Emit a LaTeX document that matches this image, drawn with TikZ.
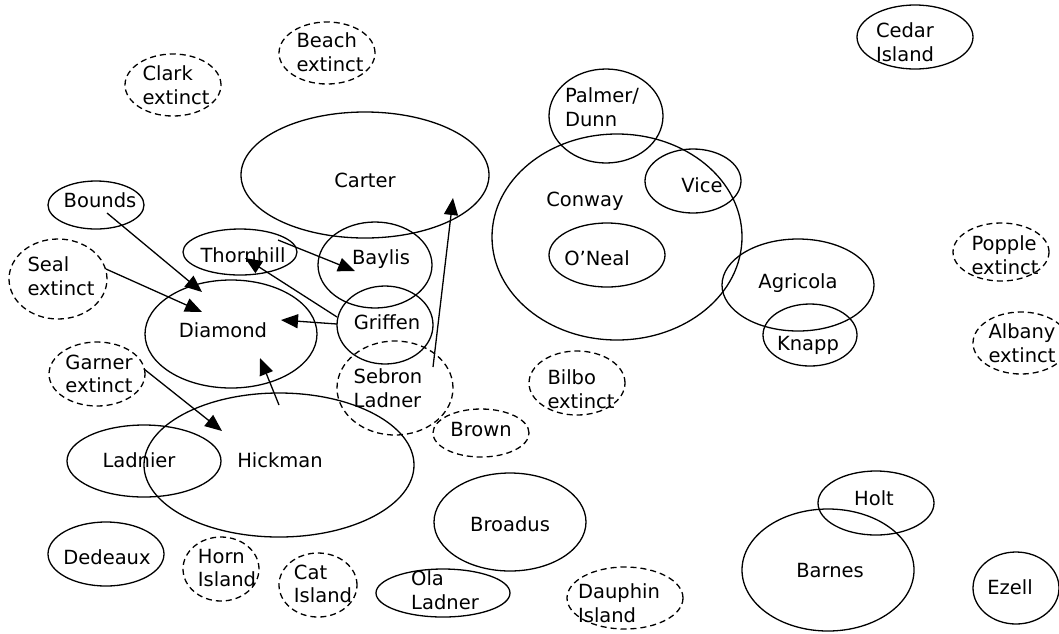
\documentclass[tikz,border=0pt]{standalone}
\usepackage{fontspec}
\setmainfont{DejaVu Sans}
\usepackage{tikz}
\usepackage{tkz-euclide}
\usetikzlibrary{shapes.geometric,arrows.meta}

\begin{document}
\begin{tikzpicture}[x=1pt, y=-1pt,
  regiao/.style={draw, ellipse, line width=1.3pt, inner sep=0pt},
  extinta/.style={regiao, dash pattern=on 6pt off 4pt},
  rotulo/.style={inner sep=0pt, align=left, font=\fontsize{19.5}{23.5}\selectfont},
  seta/.style={line width=1.3pt, -{Triangle[length=17pt,width=14pt]}}] %estilos das regioes, rotulos e setas

\useasboundingbox (0,0) rectangle (1059,633);

%Pontos de inicio e fim das setas (x/y/NomedoPonto), em pixels da figura
\tkzDefPoints{
107/213/BoundsS,
202/292/DiamondE1,
106/269/SealS,
202/312/DiamondE2,
278/240/ThornhillS,
355/271/BaylisE,
337/317/GriffenS1,
245/258/ThornhillE,
337/324/GriffenS2,
281/320/DiamondE3,
279/405/HickmanS,
260/358/DiamondE4,
433/367/SebronS,
453/198/CarterE,
144/369/GarnerS,
222/431/HickmanE}

%Regioes com linha cheia
%---------------------------------------------------
\node[regiao, minimum width=248pt, minimum height=126pt] (Carter) at (365,175) {};
\node[regiao, minimum width=250pt, minimum height=206pt] (Conway) at (617,237) {};
\node[regiao, minimum width=114pt, minimum height=94pt] (PalmerDunn) at (606,116) {};
\node[regiao, minimum width=96pt, minimum height=64pt] (Vice) at (693,181) {};
\node[regiao, minimum width=116pt, minimum height=64pt] (ONeal) at (607,255) {};
\node[regiao, minimum width=152pt, minimum height=92pt] (Agricola) at (798,285) {};
\node[regiao, minimum width=94pt, minimum height=62pt] (Knapp) at (810,335) {};
\node[regiao, minimum width=116pt, minimum height=64pt] (Cedar) at (915,37) {};
\node[regiao, minimum width=96pt, minimum height=48pt] (Bounds) at (96,205) {};
\node[regiao, minimum width=114pt, minimum height=46pt] (Thornhill) at (240,252) {};
\node[regiao, minimum width=114pt, minimum height=86pt] (Baylis) at (375,265) {};
\node[regiao, minimum width=96pt, minimum height=78pt] (Griffen) at (385,325) {};
\node[regiao, minimum width=172pt, minimum height=108pt] (Diamond) at (231,334) {};
\node[regiao, minimum width=154pt, minimum height=72pt] (Ladnier) at (144,461) {};
\node[regiao, minimum width=270pt, minimum height=144pt] (Hickman) at (279,465) {};
\node[regiao, minimum width=116pt, minimum height=64pt] (Dedeaux) at (106,554) {};
\node[regiao, minimum width=134pt, minimum height=48pt] (OlaLadner) at (443,593) {};
\node[regiao, minimum width=152pt, minimum height=98pt] (Broadus) at (510,522) {};
\node[regiao, minimum width=116pt, minimum height=64pt] (Holt) at (876,503) {};
\node[regiao, minimum width=172pt, minimum height=122pt] (Barnes) at (828,570) {};
\node[regiao, minimum width=86pt, minimum height=72pt] (Ezell) at (1016,588) {};
%---------------------------------------------------

%Regioes extintas (linha tracejada)
%---------------------------------------------------
\node[extinta, minimum width=96pt, minimum height=62pt] (Beach) at (327,53) {};
\node[extinta, minimum width=96pt, minimum height=62pt] (Clark) at (173,85) {};
\node[extinta, minimum width=98pt, minimum height=80pt] (Seal) at (58,279) {};
\node[extinta, minimum width=96pt, minimum height=64pt] (Garner) at (97,374) {};
\node[extinta, minimum width=116pt, minimum height=94pt] (Sebron) at (395,388) {};
\node[extinta, minimum width=76pt, minimum height=64pt] (Horn) at (221,569) {};
\node[extinta, minimum width=78pt, minimum height=64pt] (Cat) at (318,585) {};
\node[extinta, minimum width=96pt, minimum height=48pt] (Brown) at (481,433) {};
\node[extinta, minimum width=96pt, minimum height=64pt] (Bilbo) at (577,383) {};
\node[extinta, minimum width=116pt, minimum height=62pt] (Dauphin) at (625,598) {};
\node[extinta, minimum width=96pt, minimum height=58pt] (Popple) at (1001,252) {};
\node[extinta, minimum width=96pt, minimum height=62pt] (Albany) at (1021,343) {};
%---------------------------------------------------

%Rotulos das regioes
%---------------------------------------------------
\node[rotulo] (tCarter) at (365,180) {Carter};
\node[rotulo] (tConway) at (585,201) {Conway};
\node[rotulo] (tPalmerDunn) at (602,107) {Palmer/\\Dunn};
\node[rotulo] (tVice) at (702,185) {Vice};
\node[rotulo] (tONeal) at (597,258) {O’Neal};
\node[rotulo] (tAgricola) at (798,283) {Agricola};
\node[rotulo] (tKnapp) at (808,345) {Knapp};
\node[rotulo] (tCedar) at (905,42) {Cedar\\Island};
\node[rotulo] (tBounds) at (100,200) {Bounds};
\node[rotulo] (tThornhill) at (243,255) {Thornhill};
\node[rotulo] (tBaylis) at (381,259) {Baylis};
\node[rotulo] (tGriffen) at (387,322) {Griffen};
\node[rotulo] (tDiamond) at (223,330) {Diamond};
\node[rotulo] (tLadnier) at (139,460) {Ladnier};
\node[rotulo] (tHickman) at (280,460) {Hickman};
\node[rotulo] (tDedeaux) at (107,557) {Dedeaux};
\node[rotulo] (tOlaLadner) at (445,590) {Ola\\Ladner};
\node[rotulo] (tBroadus) at (510,524) {Broadus};
\node[rotulo] (tHolt) at (874,498) {Holt};
\node[rotulo] (tBarnes) at (830,571) {Barnes};
\node[rotulo] (tEzell) at (1010,587) {Ezell};
\node[rotulo] (tBeach) at (330,52) {Beach\\extinct};
\node[rotulo] (tClark) at (176,85) {Clark\\extinct};
\node[rotulo] (tSeal) at (61,276) {Seal\\extinct};
\node[rotulo] (tGarner) at (99,374) {Garner\\extinct};
\node[rotulo] (tSebron) at (388,388) {Sebron\\Ladner};
\node[rotulo] (tHorn) at (227,568) {Horn\\Island};
\node[rotulo] (tCat) at (323,584) {Cat\\Island};
\node[rotulo] (tBrown) at (481,430) {Brown};
\node[rotulo] (tBilbo) at (581,389) {Bilbo\\extinct};
\node[rotulo] (tDauphin) at (619,603) {Dauphin\\Island};
\node[rotulo] (tPopple) at (1005,255) {Popple\\extinct};
\node[rotulo] (tAlbany) at (1022,343) {Albany\\extinct};
%---------------------------------------------------

%Setas entre as regioes
%---------------------------------------------------
\draw[seta] (BoundsS) -- (DiamondE1);
\draw[seta] (SealS) -- (DiamondE2);
\draw[seta] (ThornhillS) -- (BaylisE);
\draw[seta] (GriffenS1) -- (ThornhillE);
\draw[seta] (GriffenS2) -- (DiamondE3);
\draw[seta] (HickmanS) -- (DiamondE4);
\draw[seta] (SebronS) -- (CarterE);
\draw[seta] (GarnerS) -- (HickmanE);
%---------------------------------------------------

\end{tikzpicture}
\end{document}
